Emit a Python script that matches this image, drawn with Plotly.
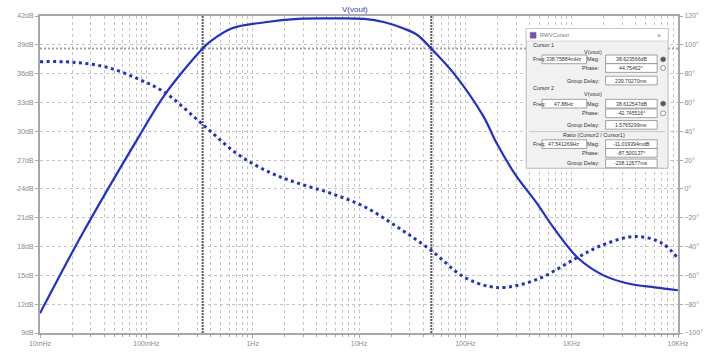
import plotly.graph_objects as go

# ---------------- data ----------------
mag_freq = [0.01, 0.0251, 0.0857, 0.150, 0.33876, 0.400, 0.631, 1.31, 2.66, 5.41,
            11.2, 17.4, 26.3, 35.1, 47.88, 77.6, 148, 195, 301, 461, 708, 1161,
            1950, 3390, 6030, 10000]
mag_db = [11.05, 19.35, 29.5, 33.85, 38.62, 39.35, 40.7, 41.35, 41.7, 41.75,
          41.7, 41.35, 40.7, 40.05, 38.61, 36.05, 31.55, 28.85, 25.35, 22.65,
          19.65, 16.75, 15.05, 14.15, 13.75, 13.45]

ph_freq = [0.01, 0.0203, 0.0422, 0.0857, 0.150, 0.33876, 0.735, 1.49, 2.66, 5.41,
           11.2, 22.8, 47.88, 96.2, 168, 242, 492, 1089, 1945, 3954, 7063, 10000]
ph_deg = [88.3, 87.9, 84.5, 76.0, 66.8, 44.75, 23.7, 11.0, 4.0, -3.0,
          -12.3, -26.3, -42.75, -61.0, -67.7, -68.3, -62.3, -48.3, -39.0, -33.0,
          -37.7, -48.3]

cursor_freq = [0.33875884, 47.88]
cursor_mag = [38.623566, 38.612547]

x_tickvals = [0.01, 0.1, 1, 10, 100, 1000, 10000]
x_ticktext = ["10mHz", "100mHz", "1Hz", "10Hz", "100Hz", "1KHz", "10KHz"]
db_range = [9, 42]
deg_range = [-100, 120]

trace_name = "V(vout)"
dlg_title = "RWVCursor"
c1_rows = [("Freq:", "338.75884mHz"), ("Mag:", "38.623566dB"), ("Phase:", "44.75462°"),
           ("Group Delay:", "239.70270ms")]
c2_rows = [("Freq:", "47.88Hz"), ("Mag:", "38.612547dB"), ("Phase:", "-42.745516°"),
           ("Group Delay:", "1.5765299ms")]
ratio_rows = [("Freq:", "47.541269Hz"), ("Mag:", "-11.019394mdB"), ("Phase:", "-87.500137°"),
              ("Group Delay:", "-238.12677ms")]

# ---------------- figure ----------------
W, H = 715, 359
ML, MR, MT, MB = 40, 32, 14, 16
PW, PH = W - ML - MR, H - MT - MB

def px(x):
    return (x - ML) / PW

def py(y):
    return 1 - (y - MT) / PH

BLUE = "#1f2fd0"
GRID = "#c4c4c4"
AX = "#a8a8a8"
TXT = "#8a8a8a"

fig = go.Figure()

# cursor lines
for f in cursor_freq:
    fig.add_trace(go.Scatter(x=[f, f], y=db_range, mode="lines",
                             line=dict(color="#5a5a5a", width=2, dash="2px,1px"),
                             hoverinfo="skip", showlegend=False))
for m in cursor_mag:
    fig.add_trace(go.Scatter(x=[x_tickvals[0], x_tickvals[-1]], y=[m, m], mode="lines",
                             line=dict(color="#a0a0a0", width=1.5, dash="2px,2px"),
                             hoverinfo="skip", showlegend=False))

fig.add_trace(go.Scatter(x=mag_freq, y=mag_db, mode="lines", line_shape="spline",
                         line=dict(color=BLUE, width=2.2), showlegend=False, name="Mag"))
fig.add_trace(go.Scatter(x=ph_freq, y=ph_deg, mode="lines", line_shape="spline", yaxis="y2",
                         line=dict(color=BLUE, width=3, dash="3px,3.5px"), showlegend=False,
                         name="Phase"))

fig.update_layout(
    width=W, height=H, margin=dict(l=ML, r=MR, t=MT, b=MB),
    paper_bgcolor="white", plot_bgcolor="white",
    font=dict(family="Liberation Sans, Arial, sans-serif", size=7, color=TXT),
    xaxis=dict(type="log", range=[-2, 4], tickmode="array", tickvals=x_tickvals,
               ticktext=x_ticktext, showgrid=True, gridcolor=GRID, griddash="dot", gridwidth=1,
               showline=True, linecolor=AX, linewidth=2, mirror=True,
               ticks="outside", ticklen=3, tickcolor=AX, zeroline=False,
               minor=dict(dtick="D1", showgrid=True, gridcolor=GRID, griddash="dot",
                          ticks="outside", ticklen=2, tickcolor=AX),
               tickfont=dict(size=7, color=TXT)),
    yaxis=dict(range=db_range, dtick=3, tick0=9, ticksuffix="dB", showgrid=True,
               gridcolor=GRID, griddash="dot", showline=True, linecolor=AX, linewidth=2,
               ticks="outside", ticklen=3, tickcolor=AX, zeroline=False,
               tickfont=dict(size=7, color=TXT)),
    yaxis2=dict(range=deg_range, dtick=20, tick0=-100, ticksuffix="°", overlaying="y",
                side="right", showgrid=False, showline=True, linecolor=AX, linewidth=2,
                ticks="outside", ticklen=3, tickcolor=AX, zeroline=False,
                tickfont=dict(size=7, color=TXT)),
)

shapes = []
ann = []

ann.append(dict(x=px(357), y=py(7), xref="paper", yref="paper", text=trace_name,
                showarrow=False, font=dict(size=8, color="#3040b0"), xanchor="center",
                yanchor="middle"))

# ---- cursor dialog ----
def rect(x0, y0, x1, y1, fill, line="#b0b0b0", lw=1):
    shapes.append(dict(type="rect", xref="paper", yref="paper", x0=px(x0), x1=px(x1),
                       y0=py(y1), y1=py(y0), fillcolor=fill, line=dict(color=line, width=lw),
                       layer="above"))

def txt(x, y, s, anchor="left", size=5.5, color="#333333"):
    ann.append(dict(x=px(x), y=py(y), xref="paper", yref="paper", text=s, showarrow=False,
                    xanchor=anchor, yanchor="middle", font=dict(size=size, color=color)))

def radio(x, y, filled):
    shapes.append(dict(type="circle", xref="paper", yref="paper", x0=px(x - 2.5), x1=px(x + 2.5),
                       y0=py(y + 2.5), y1=py(y - 2.5), fillcolor="#555555" if filled else "white",
                       line=dict(color="#777777", width=0.8), layer="above"))

rect(530, 27, 673, 172, "#f1f1f1", "#b8b8b8", 1)
rect(530, 27, 673, 40, "#ffffff", "#b8b8b8", 0.5)
rect(534, 31, 540, 37, "#7a4fb0", "#7a4fb0", 0.5)
txt(542, 34, dlg_title, size=5.5, color="#777777")
txt(664, 34, "×", anchor="center", size=7, color="#888888")

groups = [(44, 51, "Cursor 1", c1_rows, [59, 68, 81]),
          (89, 95, "Cursor 2", c2_rows, [105, 115, 127]),
          (None, 137, "Ratio (Cursor2 / Cursor1)", ratio_rows, [147, 156, 167])]
for gy, ty, gname, rows, ys in groups:
    if gy is not None:
        txt(535, gy, gname, size=5.5)
        txt(597, ty, trace_name, anchor="center", size=5.5)
    else:
        txt(598, ty, gname, anchor="center", size=5.5)
    # freq box
    txt(535, ys[0], rows[0][0], size=5.5)
    rect(546, ys[0] - 4.5, 591, ys[0] + 4.5, "white", "#8c8c8c", 0.8)
    txt(568, ys[0], rows[0][1], anchor="center", size=5.2)
    for (lab, val), yy in zip(rows[1:], ys):
        txt(606, yy, lab, anchor="right", size=5.5)
        rect(610, yy - 4.5, 662, yy + 4.5, "white", "#8c8c8c", 0.8)
        txt(636, yy, val, anchor="center", size=5.2)
    if gy is not None:
        radio(668, ys[0], True)
        radio(668, ys[1], False)

shapes.append(dict(type="line", xref="paper", yref="paper", x0=px(533), x1=px(670),
                   y0=py(134), y1=py(134), line=dict(color="#c8c8c8", width=1), layer="above"))

fig.update_layout(shapes=shapes, annotations=ann)
fig.write_html("out.html")
